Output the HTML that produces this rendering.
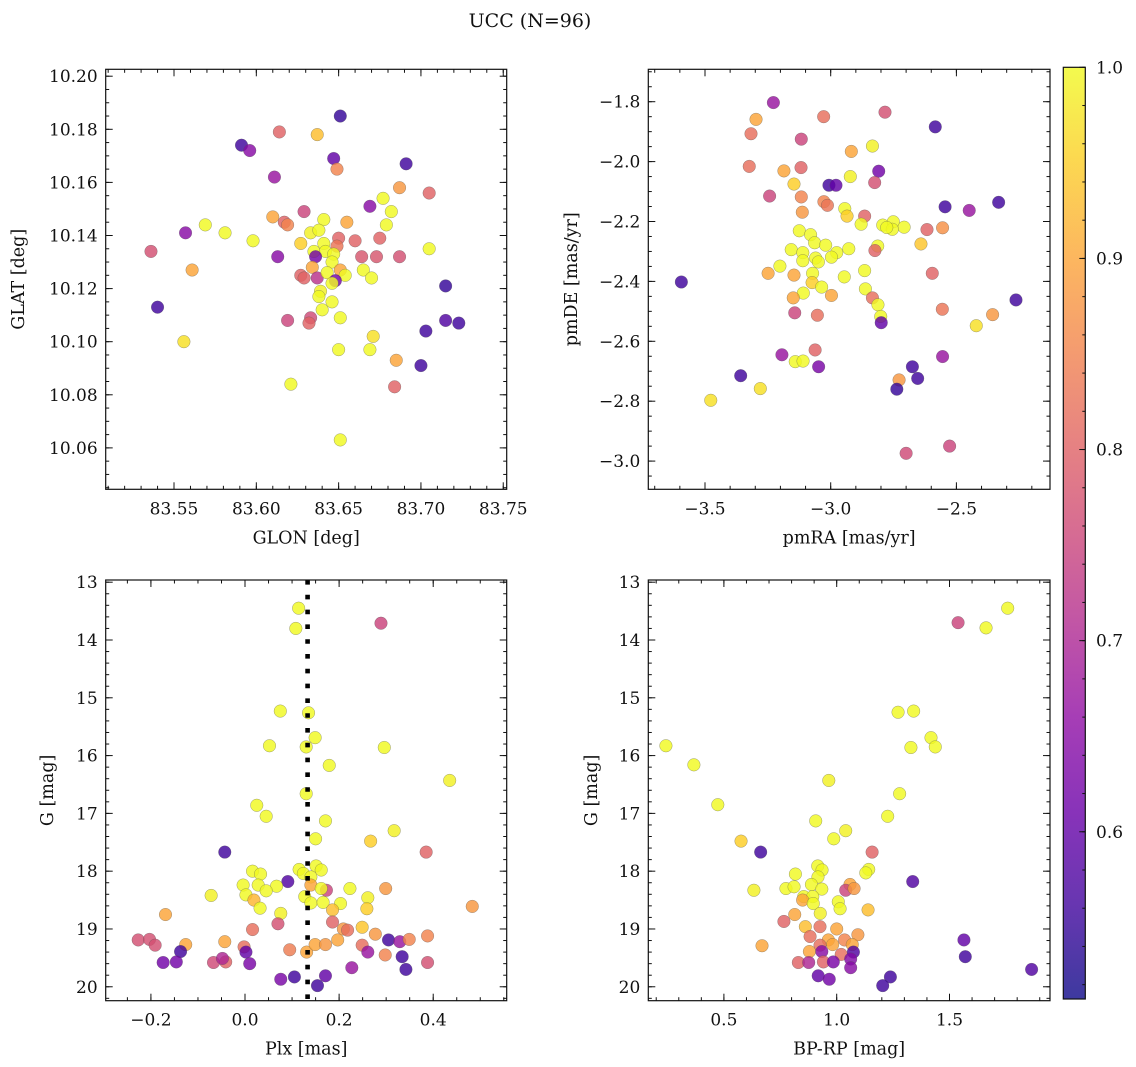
<!DOCTYPE html>
<html><head><meta charset="utf-8"><style>
html,body{margin:0;padding:0;background:#fff;}
svg{display:block;font-family:"DejaVu Serif","Liberation Serif",serif;}
</style></head><body>
<svg id="fig" width="1136" height="1067" viewBox="0 0 1136 1067" xmlns="http://www.w3.org/2000/svg">
<rect width="1136" height="1067" fill="#fff"/>
<text x="530" y="27" font-size="19" text-anchor="middle" fill="#111">UCC (N=96)</text>
</svg>
<script>
// ---- Panel 1 data: GLON vs GLAT ----
const P1_GLON=[83.651,83.614,83.637,83.591,83.596,83.647,83.649,83.691,83.611,83.687,83.705,83.677,83.669,83.629,83.682,83.610,83.641,83.617,83.619,83.655,83.679,83.569,83.581,83.557,83.633,83.638,83.650,83.598,83.660,83.675,83.627,83.641,83.649,83.536,83.705,83.635,83.642,83.647,83.664,83.673,83.687,83.613,83.636,83.646,83.561,83.634,83.651,83.665,83.627,83.629,83.637,83.643,83.654,83.648,83.646,83.670,83.715,83.639,83.638,83.646,83.640,83.540,83.651,83.619,83.633,83.632,83.715,83.723,83.703,83.671,83.556,83.650,83.669,83.685,83.700,83.621,83.684,83.651];
const P1_GLAT=[10.185,10.179,10.178,10.174,10.172,10.169,10.165,10.167,10.162,10.158,10.156,10.154,10.151,10.149,10.149,10.147,10.146,10.145,10.144,10.145,10.144,10.144,10.141,10.141,10.141,10.142,10.139,10.138,10.138,10.139,10.137,10.137,10.136,10.134,10.135,10.134,10.134,10.133,10.132,10.132,10.132,10.132,10.132,10.130,10.127,10.128,10.127,10.127,10.125,10.124,10.124,10.126,10.125,10.123,10.122,10.124,10.121,10.119,10.117,10.115,10.112,10.113,10.109,10.108,10.109,10.107,10.108,10.107,10.104,10.102,10.100,10.097,10.097,10.093,10.091,10.084,10.083,10.063];
const P1_PROB=[.55,.80,.93,.56,.65,.60,.85,.56,.67,.88,.80,1,.65,.75,1,.90,1.0,.80,.85,.90,1,1,1,.65,.99,1,.80,1,.80,.80,.95,1,.83,.77,1,1,1,1,.78,.78,.77,.65,.62,1,.90,.90,.90,1,.80,.80,.72,1,1,.62,1,1,.55,.99,1,1,1,.56,1,.75,.76,.80,.58,.56,.56,.97,.97,1,1,.90,.56,1,.80,1];
// ---- Panel 2 data: pmRA vs pmDE ----
const P2_PMRA=[-3.228,-3.297,-3.028,-2.784,-2.584,-3.317,-3.117,-2.834,-2.918,-3.324,-3.186,-3.118,-2.809,-2.922,-2.825,-3.146,-3.007,-2.979,-3.243,-3.117,-3.027,-3.013,-2.545,-2.449,-2.332,-3.113,-2.944,-2.935,-2.865,-2.879,-2.793,-2.751,-2.708,-2.755,-2.777,-2.617,-2.555,-3.125,-3.080,-3.064,-3.020,-3.157,-3.111,-2.976,-2.928,-2.813,-2.824,-2.641,-3.060,-2.997,-3.111,-3.049,-3.202,-3.249,-3.146,-3.072,-2.865,-2.596,-3.594,-2.946,-3.074,-3.036,-2.862,-3.109,-2.997,-3.149,-2.834,-2.263,-2.812,-2.556,-3.143,-3.053,-2.356,-2.801,-2.799,-2.421,-3.062,-3.194,-2.555,-3.141,-3.110,-3.048,-2.675,-2.654,-3.358,-2.728,-2.737,-3.280,-3.477,-2.527,-2.700];
const P2_PMDE=[-1.803,-1.859,-1.850,-1.835,-1.884,-1.907,-1.925,-1.948,-1.966,-2.016,-2.031,-2.020,-2.032,-2.050,-2.070,-2.075,-2.079,-2.079,-2.115,-2.118,-2.134,-2.146,-2.151,-2.163,-2.136,-2.169,-2.157,-2.182,-2.182,-2.209,-2.212,-2.201,-2.219,-2.226,-2.220,-2.227,-2.221,-2.231,-2.244,-2.271,-2.279,-2.294,-2.304,-2.304,-2.291,-2.282,-2.297,-2.275,-2.322,-2.319,-2.331,-2.335,-2.349,-2.373,-2.379,-2.373,-2.364,-2.373,-2.402,-2.385,-2.404,-2.419,-2.425,-2.439,-2.447,-2.455,-2.455,-2.462,-2.478,-2.493,-2.505,-2.513,-2.511,-2.517,-2.538,-2.548,-2.629,-2.645,-2.651,-2.668,-2.666,-2.685,-2.685,-2.724,-2.715,-2.729,-2.760,-2.758,-2.797,-2.950,-2.974];
const P2_PROB=[.67,.90,.82,.77,.56,.82,.75,.99,.90,.82,.90,.80,.62,.99,.77,.95,.56,.60,.75,.85,.85,.83,.56,.67,.56,.88,1,.95,.80,1,1,1,1,1,1,.80,.87,1,1,1,1,1,1,1,1,1,.80,.94,1,1,1,1,1,.90,.90,1,1,.80,.56,1,.95,1,1,1,.90,.90,.82,.56,1,.83,.75,.82,.88,1,.60,.97,.80,.67,.67,1,1,.63,.56,.56,.56,.88,.55,.97,.97,.75,.76];
// ---- Panel 3 data: Plx vs G ----
const P3_PLX=[0.114,0.108,0.289,0.075,0.135,0.149,0.052,0.130,0.296,0.179,0.435,0.130,0.025,0.045,0.171,0.317,0.150,0.267,-0.043,0.385,0.016,0.033,0.115,0.151,0.162,0.124,0.140,0.091,-0.004,0.028,0.067,0.140,0.173,0.162,0.223,0.299,0.045,-0.072,0.002,0.127,0.261,0.019,0.140,0.166,0.032,0.203,0.483,0.259,0.186,0.076,-0.169,0.070,0.186,0.016,0.209,0.218,0.249,-0.227,-0.203,-0.191,-0.126,-0.137,-0.043,-0.002,0.002,0.197,0.277,0.305,0.329,0.349,0.388,0.095,0.131,0.149,0.171,0.249,0.261,0.298,0.334,0.342,0.388,-0.174,-0.146,-0.067,-0.041,-0.048,0.010,0.227,0.076,0.105,0.171,0.154];
const P3_G=[13.45,13.80,13.71,15.23,15.26,15.69,15.83,15.85,15.86,16.17,16.43,16.66,16.86,17.05,17.13,17.30,17.44,17.48,17.67,17.67,18.00,18.05,17.97,17.91,17.98,18.04,18.10,18.18,18.24,18.24,18.26,18.24,18.33,18.30,18.30,18.30,18.34,18.42,18.41,18.44,18.46,18.50,18.55,18.54,18.64,18.56,18.61,18.65,18.67,18.73,18.75,18.91,18.88,19.01,19.00,19.02,18.97,19.19,19.18,19.28,19.27,19.39,19.22,19.31,19.40,19.19,19.09,19.19,19.22,19.18,19.12,19.36,19.40,19.27,19.27,19.28,19.40,19.45,19.48,19.70,19.58,19.58,19.57,19.58,19.57,19.51,19.60,19.67,19.87,19.83,19.81,19.98];
const P3_PROB=[1,1,.75,1,1,1,1,1,1,1,.99,1,1,1,1,.99,1,.95,.56,.80,1,1,1,1,1,1,1,.58,1,1,1,.90,.75,1,1,.88,1,.99,1,1,.99,.92,1,1,1,1,.88,.95,.93,.99,.90,.77,.80,.82,.88,.82,.94,.77,.77,.77,.90,.56,.90,.82,.60,.90,.88,.56,.67,.85,.85,.84,.90,.90,.88,.82,.67,.85,.56,.56,.77,.62,.62,.76,.80,.70,.63,.67,.63,.56,.60,.56];
const P3_PLX_REF=[0.133];
// ---- Panel 4 data: BP-RP vs G ----
const P4_BPRP=[1.758,1.538,1.662,1.272,1.341,1.418,1.437,1.329,0.243,0.367,0.965,1.279,0.473,1.226,0.907,1.040,0.987,0.576,0.663,1.157,0.916,0.935,0.817,1.142,1.129,0.917,1.337,0.888,1.059,0.934,1.040,1.077,0.775,0.811,0.633,0.854,0.894,0.849,1.007,0.896,1.139,1.015,0.927,0.814,0.766,0.861,0.926,1.000,1.094,0.882,0.963,1.035,0.669,0.926,0.982,1.069,0.879,1.020,1.074,0.934,1.564,1.570,0.830,0.876,0.941,0.985,1.062,1.062,1.864,0.918,0.967,1.238,1.204];
const P4_G=[13.45,13.70,13.79,15.25,15.23,15.69,15.85,15.86,15.83,16.16,16.43,16.66,16.85,17.05,17.13,17.30,17.44,17.48,17.67,17.67,17.91,17.98,18.05,17.97,18.03,18.10,18.18,18.23,18.23,18.31,18.33,18.30,18.30,18.27,18.33,18.44,18.44,18.50,18.53,18.56,18.67,18.65,18.73,18.75,18.87,18.96,18.96,19.00,19.10,19.13,19.19,19.19,19.29,19.28,19.27,19.27,19.39,19.44,19.40,19.39,19.19,19.48,19.58,19.58,19.57,19.57,19.52,19.67,19.70,19.81,19.87,19.83,19.98];
const P4_PROB=[1,.75,1,1,1,1,1,1,1,1,.99,1,1,1,1,.99,1,.95,.56,.80,1,1,1,1,1,1,.58,1,.90,1,.75,.88,1,1,.99,1,1,.90,1,1,.93,1,.99,.90,.80,.93,.82,.90,.88,.82,.90,.85,.90,.82,.90,.90,.90,.82,.58,.65,.60,.56,.80,.70,.80,.63,.64,.65,.58,.60,.62,.56,.56];
// ---- tick labels ----
const P1_XTICKS=[83.55,83.60,83.65,83.70,83.75];
const P1_YTICKS=[10.06,10.08,10.10,10.12,10.14,10.16,10.18,10.20];
const P2_XTICKS=[-3.5,-3.0,-2.5];
const P2_YTICKS=[-3.0,-2.8,-2.6,-2.4,-2.2,-2.0,-1.8];
const P3_XTICKS=[-0.2,0.0,0.2,0.4];
const G_TICKS=[13,14,15,16,17,18,19,20];
const P4_XTICKS=[0.5,1.0,1.5];
const CB_TICKS=[0.6,0.7,0.8,0.9,1.0];
const CB_RANGE=[0.5125,1.0];

const NS='http://www.w3.org/2000/svg';
const svg=document.getElementById('fig');
function mk(tag,attrs,parent){const e=document.createElementNS(NS,tag);for(const k in attrs)e.setAttribute(k,attrs[k]);(parent||svg).appendChild(e);return e;}
const PL=['#0d0887','#41049d','#6a00a8','#8f0da4','#b12a90','#cc4778','#e16462','#f2844b','#fca636','#fcce25','#f0f921'];
function hex(h){return [parseInt(h.slice(1,3),16),parseInt(h.slice(3,5),16),parseInt(h.slice(5,7),16)];}
function plasma(t){t=Math.max(0,Math.min(1,t));const f=t*10,i=Math.min(9,Math.floor(f)),r=f-i;const a=hex(PL[i]),b=hex(PL[i+1]);return 'rgb('+a.map((v,k)=>Math.round(v+(b[k]-v)*r)).join(',')+')';}
function cmap(p){return plasma((p-CB_RANGE[0])/(CB_RANGE[1]-CB_RANGE[0]));}
const fmtM=v=>v<0?'\u2212'+Math.abs(v):String(v);

function panel(o){
  const g=mk('g',{});
  
  
  const sx=v=>o.x0+(v-o.xd[0])/(o.xd[1]-o.xd[0])*(o.x1-o.x0);
  const sy=v=>o.y1+(v-o.yd[0])/(o.yd[1]-o.yd[0])*(o.y0-o.y1);
  const cid='clip-'+o.name;
  const cp=mk('clipPath',{id:cid},g);mk('rect',{x:o.x0,y:o.y0,width:o.x1-o.x0,height:o.y1-o.y0},cp);
  const pts=mk('g',{'clip-path':'url(#'+cid+')'},g);
  
  
  for(let i=0;i<o.xs.length;i++){
    const c=mk('circle',{cx:sx(o.xs[i]).toFixed(2),cy:sy(o.ys[i]).toFixed(2),r:6.3,fill:cmap(o.ps[i]),'fill-opacity':0.82,stroke:'#555','stroke-width':0.4,'stroke-opacity':0.7},pts);
    
    
  }
  if(o.vline){for(const v of o.vline){
    const l=mk('line',{x1:sx(v),x2:sx(v),y1:o.y0,y2:o.y1,stroke:'#000','stroke-width':4.6,'stroke-dasharray':'4.6 10.2'},g);
    
    
  }}
  const fr=mk('rect',{x:o.x0,y:o.y0,width:o.x1-o.x0,height:o.y1-o.y0,fill:'none',stroke:'#111','stroke-width':1.2},g);
  
  
  const tk=mk('g',{stroke:'#111','stroke-width':1},g);
  const xlo=Math.min(...o.xd),xhi=Math.max(...o.xd),ylo=Math.min(...o.yd),yhi=Math.max(...o.yd);
  function xt(v,len){const x=sx(v);mk('line',{x1:x,x2:x,y1:o.y1,y2:o.y1-len},tk);mk('line',{x1:x,x2:x,y1:o.y0,y2:o.y0+len},tk);}
  function yt(v,len){const y=sy(v);mk('line',{x1:o.x0,x2:o.x0+len,y1:y,y2:y},tk);mk('line',{x1:o.x1,x2:o.x1-len,y1:y,y2:y},tk);}
  for(let k=Math.ceil(xlo/o.mx-1e-6);k*o.mx<=xhi+1e-9;k++)xt(k*o.mx,3.5);
  for(let k=Math.ceil(ylo/o.my-1e-6);k*o.my<=yhi+1e-9;k++)yt(k*o.my,3.5);
  for(const v of o.xt){xt(v,7);
    const t=mk('text',{x:sx(v),y:o.y1+25,'font-size':17,'text-anchor':'middle',fill:'#111'},g);t.textContent=o.fx(v);
    
    }
  for(const v of o.yt){yt(v,7);
    const t=mk('text',{x:o.x0-8,y:sy(v)+6,'font-size':17,'text-anchor':'end',fill:'#111'},g);t.textContent=o.fy(v);
    
    }
  const xl=mk('text',{x:(o.x0+o.x1)/2,y:o.y1+54,'font-size':17.5,'text-anchor':'middle',fill:'#111'},g);xl.textContent=o.xlabel;
  
  
  const cy=(o.y0+o.y1)/2;
  const yl=mk('text',{x:o.ylx,y:cy,'font-size':17.5,'text-anchor':'middle',fill:'#111',transform:'rotate(-90 '+o.ylx+' '+cy+')'},g);yl.textContent=o.ylabel;
  
  
}
panel({name:'glon-glat-panel',x0:105.7,x1:506.7,y0:69.3,y1:489.3,xd:[83.5085,83.7521],yd:[10.0444,10.2026],xs:P1_GLON,ys:P1_GLAT,ps:P1_PROB,xt:P1_XTICKS,yt:P1_YTICKS,mx:0.01,my:0.005,fx:v=>v.toFixed(2),fy:v=>v.toFixed(2),xlabel:'GLON [deg]',ylabel:'GLAT [deg]',ylx:24});
panel({name:'pm-panel',x0:648.3,x1:1050,y0:69.3,y1:489.3,xd:[-3.7255,-2.1277],yd:[-3.0942,-1.6918],xs:P2_PMRA,ys:P2_PMDE,ps:P2_PROB,xt:P2_XTICKS,yt:P2_YTICKS,mx:0.1,my:0.05,fx:v=>(v<0?'\u2212':'')+Math.abs(v).toFixed(1),fy:v=>(v<0?'\u2212':'')+Math.abs(v).toFixed(1),xlabel:'pmRA [mas/yr]',ylabel:'pmDE [mas/yr]',ylx:577});
panel({name:'plx-g-panel',x0:105.7,x1:506.7,y0:580,y1:1000.7,xd:[-0.2961,0.5562],yd:[20.241,12.962],xs:P3_PLX,ys:P3_G,ps:P3_PROB,xt:P3_XTICKS,yt:G_TICKS,mx:0.05,my:0.2,fx:v=>(v<0?'\u2212':'')+Math.abs(v).toFixed(1),fy:v=>String(v),xlabel:'Plx [mas]',ylabel:'G [mag]',ylx:53,vline:P3_PLX_REF});
panel({name:'cmd-panel',x0:648.3,x1:1050,y0:580,y1:1000.7,xd:[0.1649,1.9455],yd:[20.241,12.962],xs:P4_BPRP,ys:P4_G,ps:P4_PROB,xt:P4_XTICKS,yt:G_TICKS,mx:0.1,my:0.2,fx:v=>v.toFixed(1),fy:v=>String(v),xlabel:'BP-RP [mag]',ylabel:'G [mag]',ylx:597});

// colorbar
(function(){
  const g=mk('g',{});
  
  
  const x0=1063.3,x1=1085.3,y0=67.3,y1=999;
  const sy=v=>y1-(v-CB_RANGE[0])/(CB_RANGE[1]-CB_RANGE[0])*(y1-y0);
  const defs=mk('defs',{},g);
  const lg=mk('linearGradient',{id:'plasmaGrad',x1:0,y1:1,x2:0,y2:0},defs);
  for(let i=0;i<PL.length;i++)mk('stop',{offset:(i/10).toFixed(2),'stop-color':PL[i]},lg);
  mk('rect',{x:x0,y:y0,width:x1-x0,height:y1-y0,fill:'url(#plasmaGrad)','fill-opacity':0.8},g);
  mk('rect',{x:x0,y:y0,width:x1-x0,height:y1-y0,fill:'none',stroke:'#111','stroke-width':1.2},g);
  for(let k=Math.ceil(CB_RANGE[0]/0.02);k*0.02<=1.0001;k++){const y=sy(k*0.02);mk('line',{x1:x1,x2:x1-3,y1:y,y2:y,stroke:'#111','stroke-width':1},g);}
  for(const v of CB_TICKS){const y=sy(v);mk('line',{x1:x1,x2:x1-6,y1:y,y2:y,stroke:'#111','stroke-width':1},g);
    const t=mk('text',{x:1096,y:y+6,'font-size':17,fill:'#111'},g);t.textContent=v.toFixed(1);
    
    }
})();
</script>
</body></html>
